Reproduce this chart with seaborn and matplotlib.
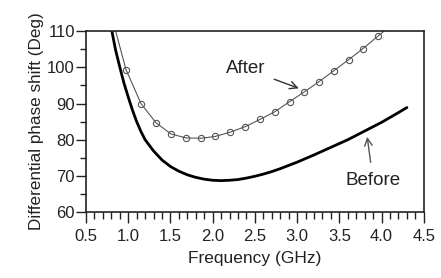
import matplotlib
matplotlib.use("Agg")
import matplotlib.pyplot as plt
from matplotlib.ticker import MultipleLocator, FormatStrFormatter
import pandas as pd
import seaborn as sns

# "Before" curve (thick solid line)
before_freq = [0.80, 0.85, 0.90, 0.95, 1.00, 1.05, 1.10, 1.15, 1.20, 1.30, 1.40, 1.50,
               1.60, 1.70, 1.80, 1.90, 2.00, 2.10, 2.20, 2.30, 2.40, 2.50, 2.60, 2.70,
               2.80, 2.90, 3.00, 3.20, 3.40, 3.60, 3.80, 4.00, 4.20, 4.30]
before_deg = [110.8, 104.8, 100.1, 95.6, 91.8, 88.2, 85.0, 82.3, 80.0, 76.9, 74.4, 72.6,
              71.3, 70.3, 69.6, 69.1, 68.8, 68.7, 68.8, 69.0, 69.4, 69.9, 70.5, 71.2,
              72.0, 72.9, 73.8, 75.8, 77.9, 80.0, 82.4, 84.8, 87.5, 88.9]

# "After" curve (thin line with open circle markers); first/last points are line ends only
after_freq = [0.84, 0.973, 1.151, 1.328, 1.506, 1.683, 1.861, 2.030, 2.208, 2.385, 2.559,
              2.733, 2.910, 3.084, 3.257, 3.431, 3.609, 3.781, 3.956, 4.06]
after_deg = [111.0, 99.4, 90.0, 84.7, 81.6, 80.5, 80.4, 80.9, 82.1, 83.6, 85.6,
             87.7, 90.5, 93.2, 96.0, 99.0, 102.1, 105.2, 108.6, 110.6]

sns.set_style("ticks")
plt.rcParams['font.family'] = ['Liberation Sans', 'DejaVu Sans']

fig = plt.figure(figsize=(4.41, 2.78), dpi=100)
ax = fig.add_axes([0.195, 0.237, 0.766, 0.651])

df_b = pd.DataFrame({'f': before_freq, 'd': before_deg})
df_a = pd.DataFrame({'f': after_freq, 'd': after_deg})

sns.lineplot(x='f', y='d', data=df_b, ax=ax, color='black', linewidth=2.0,
             estimator=None, sort=False)
sns.lineplot(x='f', y='d', data=df_a, ax=ax, color='#555555', linewidth=0.8,
             estimator=None, sort=False, marker='o', markersize=4.5,
             markerfacecolor='none', markeredgecolor='#555555', markeredgewidth=0.8,
             markevery=list(range(1, len(after_freq) - 1)))

ax.set_xlim(0.5, 4.5)
ax.set_ylim(60, 110)
ax.xaxis.set_major_locator(MultipleLocator(0.5))
ax.xaxis.set_minor_locator(MultipleLocator(0.1))
ax.yaxis.set_major_locator(MultipleLocator(10))
ax.yaxis.set_minor_locator(MultipleLocator(5))
ax.xaxis.set_major_formatter(FormatStrFormatter('%.1f'))

ax.tick_params(axis='both', which='major', direction='out', labelsize=12,
               colors='#222222', width=1.0)
ax.tick_params(axis='x', which='major', length=8, pad=4)
ax.tick_params(axis='x', which='minor', direction='out', length=5, width=1.0, color='#222222')
ax.tick_params(axis='y', which='major', length=7, pad=1)
ax.tick_params(axis='y', which='minor', direction='out', length=4, width=1.0, color='#222222')

for s in ax.spines.values():
    s.set_visible(True)
    s.set_color('#222222')
    s.set_linewidth(1.2)

ax.set_xlabel('Frequency (GHz)', fontsize=12.5, color='#222222', labelpad=5)
ax.set_ylabel('Differential phase shift (Deg)', fontsize=12.3, color='#222222', labelpad=2)

ax.annotate('After', xy=(3.02, 94.2), xytext=(2.16, 99.6), fontsize=13.5,
            color='#222222', va='center', ha='left',
            arrowprops=dict(arrowstyle='->', color='#333333', lw=1.0,
                            shrinkA=4, shrinkB=0))
ax.annotate('Before', xy=(3.83, 80.8), xytext=(3.90, 68.6), fontsize=13.5,
            color='#222222', va='center', ha='center',
            arrowprops=dict(arrowstyle='->', color='#555555', lw=1.0,
                            shrinkA=5, shrinkB=0))

fig.savefig('out.png', dpi=100)
